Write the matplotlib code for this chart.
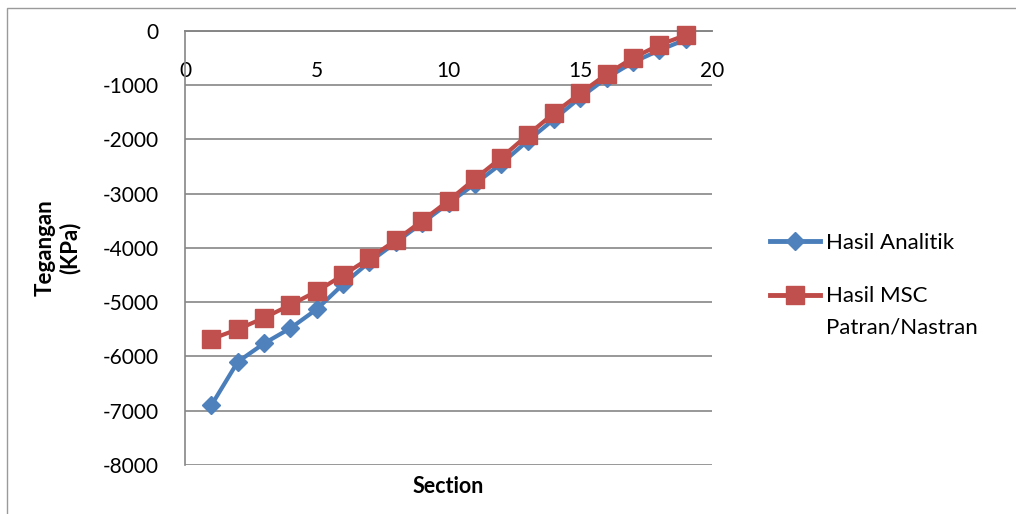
import matplotlib.pyplot as plt
from matplotlib.patches import Rectangle

plt.rcParams['font.family'] = ['Lato', 'DejaVu Sans']
plt.rcParams['axes.unicode_minus'] = False

section = [1, 2, 3, 4, 5, 6, 7, 8, 9, 10, 11, 12, 13, 14, 15, 16, 17, 18, 19]
analitik = [-6900, -6100, -5760, -5480, -5130, -4670, -4260, -3900, -3540,
            -3180, -2820, -2450, -2030, -1630, -1230, -870, -580, -360, -160]
msc = [-5680, -5500, -5290, -5050, -4800, -4500, -4190, -3860, -3500,
       -3130, -2730, -2340, -1920, -1520, -1150, -800, -500, -260, -80]

blue = '#4A7EBB'
red = '#BE4B48'
grey = '#868686'

fig = plt.figure(figsize=(10.16, 5.14), dpi=100)
ax = fig.add_axes([185 / 1016, 1 - 465 / 514, 527 / 1016, 434.2 / 514])

ax.plot(section, analitik, color=blue, lw=3, marker='D', ms=9,
        mfc='#4F81BD', mec='#4F81BD', clip_on=False, zorder=3, label='Hasil Analitik')
ax.plot(section, msc, color=red, lw=3, marker='s', ms=13.5,
        mfc='#C0504D', mec='#C0504D', clip_on=False, zorder=4, label='Hasil MSC')

ax.set_xlim(0, 20)
ax.set_ylim(-8000, 0)
ax.set_xticks(range(0, 21, 5))
ax.set_yticks(range(-8000, 1, 1000))
ax.grid(axis='y', color=grey, lw=1.2)
ax.set_axisbelow(True)

ax.spines['right'].set_visible(False)
ax.spines['bottom'].set_position(('data', 0))
for s in ['left', 'bottom', 'top']:
    ax.spines[s].set_color(grey)
    ax.spines[s].set_linewidth(1.2)
ax.tick_params(axis='x', length=0, pad=22, labelsize=15)
ax.tick_params(axis='y', length=0, pad=19, labelsize=15)

ax.set_xlabel('Section', fontsize=15.5, fontweight='bold')
ax.xaxis.set_label_coords(0.5, -0.025)
ax.set_ylabel('Tegangan\n(KPa)', fontsize=16, fontweight='bold', linespacing=1.15)
ax.yaxis.set_label_coords(-0.199, 0.5)

leg = ax.legend(loc='upper left', bbox_to_anchor=(750 / 1016, 1 - 213 / 514),
                bbox_transform=fig.transFigure, frameon=False, fontsize=16,
                handlelength=2.25, handletextpad=0.27, labelspacing=1.5)
for h in leg.get_lines():
    h.set_linewidth(3.5)
fig.text(826 / 1016, 1 - 328 / 514, 'Patran/Nastran', fontsize=16,
         ha='left', va='center')

fig.patches.append(Rectangle((7 / 1016, -0.1), 1.2, 1.1 - 8 / 514,
                             transform=fig.transFigure, fill=False,
                             edgecolor='#9a9a9a', lw=1))

fig.savefig('out.png', dpi=100)
